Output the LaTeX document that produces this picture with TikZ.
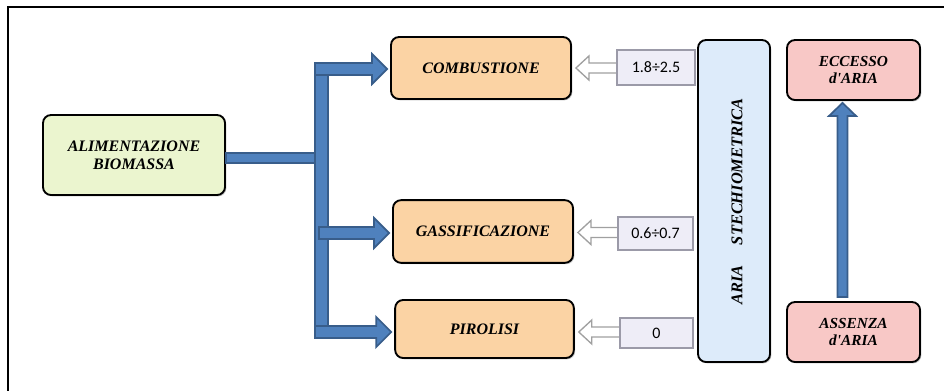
\documentclass[tikz,border=0pt]{standalone}
\usepackage{fontspec}
\setmainfont{Liberation Serif}
\newfontfamily\boxfont{Liberation Serif}
\newfontfamily\numfont{Carlito}
\usetikzlibrary{calc,shadows}
\definecolor{greenbox}{HTML}{EBF5CF}
\definecolor{orangebox}{HTML}{FBD3A4}
\definecolor{bluebox}{HTML}{DDEBFA}
\definecolor{pinkbox}{HTML}{F8C8C6}
\definecolor{valbox}{HTML}{EEEDF7}
\definecolor{valborder}{HTML}{9B9AA8}
\definecolor{arrowfill}{HTML}{4F81BD}
\definecolor{arrowline}{HTML}{385D8A}
\definecolor{hollowline}{HTML}{A0A0A0}
\begin{document}
\begin{tikzpicture}[x=0.75pt,y=-0.75pt,
  box/.style={draw=black, line width=1.4pt, rounded corners=6pt, align=center,
    inner sep=0pt, font=\boxfont\fontsize{12}{13.5}\selectfont\bfseries\itshape,
    drop shadow={shadow xshift=1pt, shadow yshift=-1pt, opacity=0.45}},
  greenb/.style={box, fill=greenbox},
  orangeb/.style={box, fill=orangebox},
  blueb/.style={box, fill=bluebox},
  pinkb/.style={box, fill=pinkbox, font=\boxfont\fontsize{11.5}{12.75}\selectfont\bfseries\itshape},
  valb/.style={draw=valborder, line width=1.1pt, fill=valbox, inner sep=0pt,
    font=\numfont\fontsize{12}{14}\selectfont,
    drop shadow={shadow xshift=1pt, shadow yshift=-1pt, opacity=0.35, fill=valborder}},
  barrow/.style={fill=arrowfill, draw=arrowline, line width=1.3pt, line join=miter},
  hollow/.style={fill=white, draw=hollowline, line width=1pt}
]
\useasboundingbox (0,0) rectangle (944,390);
\fill[white] (0,0) rectangle (944,390);
% frame
\draw[line width=2.2pt] (8,392) -- (8,7) -- (946,7);

% boxes
\node[greenb, minimum width=136.5pt, minimum height=60pt] (ali) at (134,155) {ALIMENTAZIONE\\BIOMASSA};
\node[orangeb, minimum width=135pt, minimum height=46.5pt] (comb) at (481,68) {COMBUSTIONE};
\node[orangeb, minimum width=135pt, minimum height=47pt] (gas) at (483,231.5) {GASSIFICAZIONE};
\node[orangeb, minimum width=134pt, minimum height=43.5pt] (pir) at (484.5,329) {PIROLISI};
\node[blueb, minimum width=54pt, minimum height=241.5pt] (aria) at (734,201) {};
\node[font=\boxfont\fontsize{12.3}{14}\selectfont\bfseries\itshape, rotate=90] (ariatext) at (737,201.5) {ARIA\hspace{1.25em}STECHIOMETRICA};
\node[pinkb, minimum width=99.75pt, minimum height=45pt] (ecc) at (853.5,70) {ECCESSO\\d'ARIA};
\node[pinkb, minimum width=99.75pt, minimum height=45pt] (ass) at (853.5,332) {ASSENZA\\d'ARIA};

% blue tree
\coordinate (c1) at ($(comb.west)+(-3,1)$);
\coordinate (c2) at ($(gas.west)+(-3,1.5)$);
\coordinate (c3) at ($(pir.west)+(-3,3)$);
\coordinate (tl) at (315,0);
\coordinate (tr) at (328,0);
\coordinate (tl2) at (319,0);
\draw[barrow] ($(ali.east)+(0,-2)$) rectangle ($(ali.east -| tl)+(0,8)$);
\draw[barrow] ($(c1 -| tl)+(0,-6)$) rectangle ($(c3 -| tr)+(0,6)$);
\draw[barrow] (c1) -- ++(-15,-15) -- ++(0,9) -- ($(c1 -| tl)+(0,-6)$) -- ++(0,12)
  -- ($(c1)+(-15,6)$) -- ++(0,9) -- cycle;
\draw[barrow] (c2) -- ++(-15,-15) -- ++(0,9) -- ($(c2 -| tl2)+(0,-6)$) -- ++(0,12)
  -- ($(c2)+(-15,6)$) -- ++(0,9) -- cycle;
\draw[barrow] (c3) -- ++(-15,-15) -- ++(0,9) -- ($(c3 -| tl)+(0,-6)$) -- ++(0,12)
  -- ($(c3)+(-15,6)$) -- ++(0,9) -- cycle;

% up arrow
\coordinate (ut) at ($(ecc.south)+(-11,2)$);
\draw[barrow] (ut) -- ++(13.5,13) -- ++(-8.5,0) -- ($(ass.north)+(-6,-4)$) -- ++(-10,0)
  -- ($(ut)+(-5,13)$) -- ++(-8.5,0) -- cycle;

% hollow arrows
\coordinate (h1) at ($(comb.east)+(4,0)$);
\coordinate (h2) at ($(gas.east)+(4,1)$);
\coordinate (h3) at ($(pir.east)+(4,3)$);
\foreach \h in {h1,h2,h3}{
  \draw[hollow] (\h) -- ++(13,-12) -- ++(0,7) -- ++(36,0) -- ++(0,10) -- ++(-36,0) -- ++(0,7) -- cycle;
}

% value boxes
\node[valb, minimum width=58.5pt, minimum height=26.25pt] (v1) at (656,67.5) {1.8÷2.5};
\node[valb, minimum width=56.25pt, minimum height=24.75pt] (v2) at (655.5,233.5) {0.6÷0.7};
\node[valb, minimum width=54.75pt, minimum height=22.5pt] (v3) at (656.5,333) {0};
\end{tikzpicture}
\end{document}
